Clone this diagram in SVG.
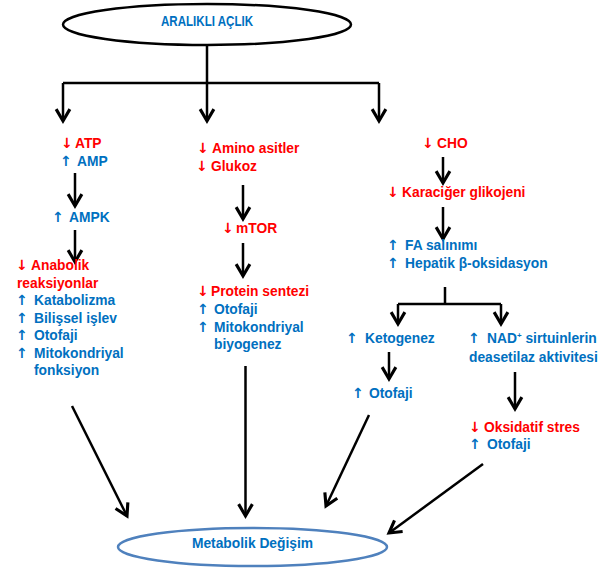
<svg xmlns="http://www.w3.org/2000/svg" width="611" height="569" viewBox="0 0 611 569">
<defs>
<style>
text{font-family:"Liberation Sans",Arial,sans-serif;font-weight:bold;font-size:13.8px}
.a{font-family:"DejaVu Sans",sans-serif;font-weight:bold;font-size:14px}
.r{fill:#FF0000}
.b{fill:#0070C0}
.ln{fill:none;stroke:#000;stroke-width:2.5}
</style>
<marker id="ah" markerUnits="userSpaceOnUse" markerWidth="20" markerHeight="20" viewBox="-12 -8 14 16" refX="0" refY="0" orient="auto">
<path d="M-9.5,-5.5 L0,0 L-9.5,5.5" fill="none" stroke="#000" stroke-width="2.5"/>
</marker>
</defs>
<rect width="611" height="569" fill="#fff"/>
<g id="aralikli-aclik">
<ellipse cx="207" cy="24.5" rx="144" ry="20.5" fill="#fff" stroke="#000" stroke-width="2.5"/>
<text x="207" y="25.5" text-anchor="middle" class="b" font-size="15.5" textLength="92" lengthAdjust="spacingAndGlyphs">ARALIKLI AÇLIK</text>
</g>
<g id="connectors" class="ln">
<path d="M207,45 V83 M63,83 H379"/>
<path d="M63,83 V121" marker-end="url(#ah)"/>
<path d="M207,83 V121" marker-end="url(#ah)"/>
<path d="M379,83 V121" marker-end="url(#ah)"/>
<path d="M75,173 V206" marker-end="url(#ah)"/>
<path d="M75,230 V262" marker-end="url(#ah)"/>
<path d="M243,185 V219" marker-end="url(#ah)"/>
<path d="M243,243 V276" marker-end="url(#ah)"/>
<path d="M245.5,366 V516" marker-end="url(#ah)"/>
<path d="M443,157 V183" marker-end="url(#ah)"/>
<path d="M443,207 V239" marker-end="url(#ah)"/>
<path d="M445,287 V304 M398,304 H501"/>
<path d="M398,304 V324" marker-end="url(#ah)"/>
<path d="M501,304 V324" marker-end="url(#ah)"/>
<path d="M389,352 V379" marker-end="url(#ah)"/>
<path d="M515,372 V409" marker-end="url(#ah)"/>
<path d="M72,406 L127,516" marker-end="url(#ah)"/>
<path d="M369,415 L326,506" marker-end="url(#ah)"/>
<path d="M483,464 L389,533" marker-end="url(#ah)"/>
</g>
<g id="atp-amp">
<text y="148" class="r"><tspan class="a" x="61">↓</tspan><tspan x="75">ATP</tspan></text>
<text y="166" class="b"><tspan class="a" x="60">↑</tspan><tspan x="77">AMP</tspan></text>
</g>
<g id="ampk">
<text y="222" class="b"><tspan class="a" x="52">↑</tspan><tspan x="69">AMPK</tspan></text>
</g>
<g id="anabolik">
<text y="270" class="r"><tspan class="a" x="16">↓</tspan><tspan x="31">Anabolik</tspan></text>
<text x="17" y="288" class="r">reaksiyonlar</text>
<text y="305" class="b"><tspan class="a" x="16">↑</tspan><tspan x="34">Katabolizma</tspan></text>
<text y="323" class="b"><tspan class="a" x="16">↑</tspan><tspan x="34">Bilişsel işlev</tspan></text>
<text y="340" class="b"><tspan class="a" x="16">↑</tspan><tspan x="34">Otofaji</tspan></text>
<text y="358" class="b"><tspan class="a" x="16">↑</tspan><tspan x="34">Mitokondriyal</tspan></text>
<text x="34" y="375" class="b">fonksiyon</text>
</g>
<g id="amino-glukoz">
<text y="153" class="r"><tspan class="a" x="197">↓</tspan><tspan x="212">Amino asitler</tspan></text>
<text y="171" class="r"><tspan class="a" x="196">↓</tspan><tspan x="211">Glukoz</tspan></text>
</g>
<g id="mtor">
<text y="233" class="r"><tspan class="a" x="222">↓</tspan><tspan x="236">mTOR</tspan></text>
</g>
<g id="protein">
<text y="296" class="r"><tspan class="a" x="197">↓</tspan><tspan x="211">Protein sentezi</tspan></text>
<text y="314" class="b"><tspan class="a" x="197">↑</tspan><tspan x="214">Otofaji</tspan></text>
<text y="332" class="b"><tspan class="a" x="197">↑</tspan><tspan x="214">Mitokondriyal</tspan></text>
<text x="214" y="349" class="b">biyogenez</text>
</g>
<g id="cho">
<text y="148" class="r"><tspan class="a" x="422">↓</tspan><tspan x="437">CHO</tspan></text>
</g>
<g id="karaciger">
<text y="197" class="r"><tspan class="a" x="387">↓</tspan><tspan x="402">Karaciğer glikojeni</tspan></text>
</g>
<g id="fa">
<text y="250" class="b"><tspan class="a" x="387">↑</tspan><tspan x="405">FA salınımı</tspan></text>
<text y="268" class="b"><tspan class="a" x="387">↑</tspan><tspan x="405">Hepatik β-oksidasyon</tspan></text>
</g>
<g id="ketogenez">
<text y="343" class="b"><tspan class="a" x="346">↑</tspan><tspan x="365">Ketogenez</tspan></text>
</g>
<g id="nad">
<text y="343" class="b"><tspan class="a" x="468">↑</tspan><tspan x="487">NAD</tspan><tspan dy="-5" font-size="8">+</tspan><tspan dy="5"> sirtuinlerin</tspan></text>
<text x="469" y="362" class="b">deasetilaz aktivitesi</text>
</g>
<g id="otofaji-keto">
<text y="398" class="b"><tspan class="a" x="352">↑</tspan><tspan x="369">Otofaji</tspan></text>
</g>
<g id="oksidatif">
<text y="432" class="r"><tspan class="a" x="469">↓</tspan><tspan x="484">Oksidatif stres</tspan></text>
<text y="449" class="b"><tspan class="a" x="469">↑</tspan><tspan x="487">Otofaji</tspan></text>
</g>
<g id="metabolik">
<ellipse cx="252.5" cy="547" rx="134.5" ry="19" fill="#fff" stroke="#4F81BD" stroke-width="2.5"/>
<text x="252.5" y="548" text-anchor="middle" class="b">Metabolik Değişim</text>
</g>
</svg>
